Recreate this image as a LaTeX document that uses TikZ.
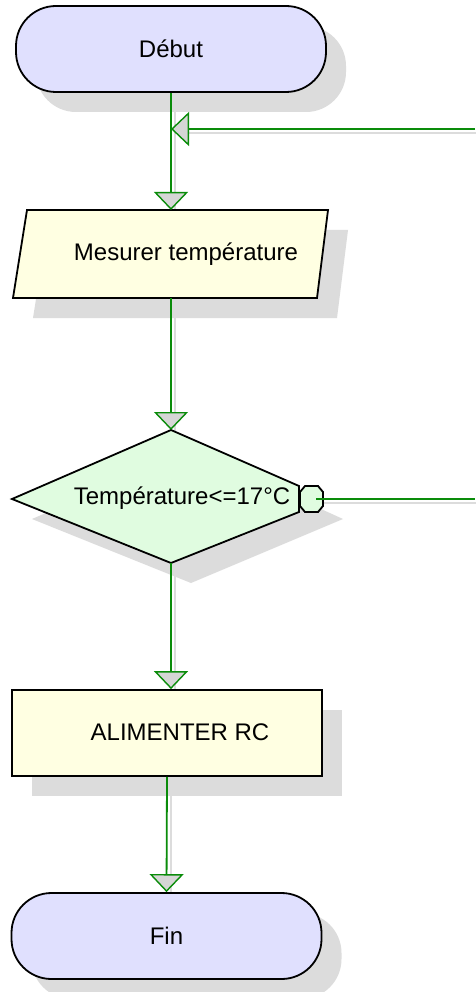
\documentclass[tikz,border=0pt]{standalone}
\usepackage{fontspec}
\setmainfont{Liberation Sans}
\usetikzlibrary{shadows,arrows.meta}
\definecolor{termfill}{HTML}{E0E0FE}
\definecolor{procfill}{HTML}{FFFFE2}
\definecolor{decfill}{HTML}{E0FCE0}
\definecolor{shadowgray}{HTML}{DCDCDC}
\definecolor{flowgreen}{HTML}{0A8C0A}
\definecolor{tipgray}{HTML}{D6D6D6}
\begin{document}
\begin{tikzpicture}[x=1pt,y=-1pt,
  txt/.style={font=\fontsize{24}{28}\selectfont, inner sep=0pt, text=black},
  shd/.style={drop shadow={shadow xshift=20pt, shadow yshift=-20pt, fill=shadowgray, opacity=1}},
  border/.style={draw=black, line width=1.8pt},
  term/.style={border, shd, fill=termfill, rectangle, rounded corners=40pt, minimum width=310pt, minimum height=86pt, txt},
  proc/.style={border, shd, fill=procfill, rectangle, minimum width=310pt, minimum height=86pt},
  wire/.style={draw=flowgreen, line width=1.8pt},
  flow/.style={wire, -{Triangle[width=34pt,length=18pt,fill=tipgray,line width=1.4pt]}},
  lshadow/.style={draw=shadowgray, line width=1.8pt, transform canvas={xshift=4pt,yshift=-4pt}}
]
\useasboundingbox (0,0) rectangle (475,992);
\fill[white] (0,0) rectangle (475,992);

% named coordinates
\coordinate (mes-n) at (171,210);
\coordinate (mes-s) at (171,298);
\coordinate (test-n) at (171,430);
\coordinate (test-s) at (171,563);
\coordinate (test-e) at (316,499);
\coordinate (loop-r) at (475,129);
\coordinate (exit-r) at (475,499);

% line shadows
\draw[lshadow] (171,92) -- (mes-n);
\draw[lshadow] (loop-r) -- (171,129);
\draw[lshadow] (mes-s) -- (test-n);
\draw[lshadow] (test-s) -- (171,690);
\draw[lshadow] (167,776) -- (167,893);
\draw[lshadow] (test-e) -- (exit-r);

% shapes
\node[term] (debut) at (171,49) {Début};

\path[border, shd, fill=procfill] (27,210) -- (328,210) -- (317,298) -- (13,298) -- cycle;
\node[txt] (mesure) at (186,254) {Mesurer température};

\fill[shadowgray] (191,450) -- (343,519) -- (191,583) -- (32,519) -- cycle;
\path[border, fill=decfill] (test-n) -- (299,486) -- (299,512) -- (test-s) -- (12,499) -- cycle;
\path[border, fill=decfill] (305,486) -- (318,486) -- (323,492) -- (323,506) -- (318,512) -- (305,512) -- (300,506) -- (300,492) -- cycle;
\node[txt] (test) at (182,498) {Température<=17°C};

\node[proc] (alim) at (167,733) {};
\node[txt] (alimtxt) at (180,732) {ALIMENTER RC};

\node[term] (fin) at (166.5,936) {Fin};

% connectors
\draw[flow] (debut.south) -- (mes-n);
\draw[flow] (loop-r) -- (loop-r -| debut.south);
\draw[flow] (mes-s) -- (test-n);
\draw[flow] (test-s) -- (test-s |- alim.north);
\draw[flow] (alim.south) -- (fin.north);
\draw[wire] (test-e) -- (exit-r);
\end{tikzpicture}
\end{document}
